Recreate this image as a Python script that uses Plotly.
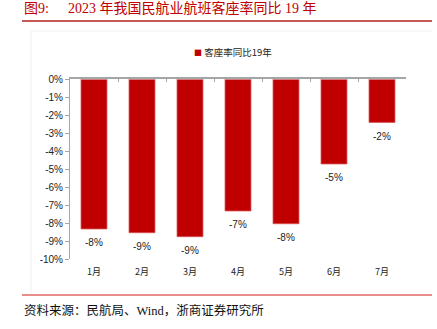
import plotly.graph_objects as go

months = ["1月", "2月", "3月", "4月", "5月", "6月", "7月"]
load_factor_vs_2019 = [-8.33, -8.54, -8.76, -7.33, -8.04, -4.72, -2.41]
series_name = "客座率同比19年"
y_ticks = list(range(0, -11, -1))
y_tick_labels = [f"{v}%" for v in y_ticks]

RED = "#C00000"
W, H = 437, 329
ML, MR, MT, MB = 70, 31, 79, 70
PW, PH = W - ML - MR, H - MT - MB


def px_x(p):
    return (p - ML) / PW


def px_y(p):
    return 1 - (p - MT) / PH


fig = go.Figure()
fig.add_trace(go.Bar(
    x=months, y=load_factor_vs_2019, name=series_name,
    marker=dict(color=RED, line=dict(color="#d85050", width=0.8)),
    showlegend=False, xaxis="x", yaxis="y",
))
# invisible trace to drive top axis (zero line with boundary ticks)
fig.add_trace(go.Bar(
    x=months, y=[0] * len(months), xaxis="x2", yaxis="y",
    showlegend=False, hoverinfo="skip", marker=dict(color="rgba(0,0,0,0)"),
))

annotations = []
for m, v in zip(months, load_factor_vs_2019):
    annotations.append(dict(
        x=m, y=v, xref="x", yref="y", text=f"{round(v):d}%",
        showarrow=False, yshift=-14, yanchor="middle",
        font=dict(family="Liberation Sans, Arial, sans-serif", size=10, color="#222"),
    ))

annotations += [
    # legend
    dict(x=px_x(192), y=px_y(52), xref="paper", yref="paper",
         text=f"<span style='color:{RED};font-size:8px'>■</span> {series_name}",
         showarrow=False, xanchor="left", yanchor="middle",
         font=dict(family="Noto Sans CJK SC, sans-serif", size=9.5, color="#222")),
    dict(x=px_x(22), y=px_y(8), xref="paper", yref="paper", text="图9:",
         showarrow=False, xanchor="left", yanchor="middle",
         font=dict(family="Liberation Serif, Noto Sans CJK SC, serif", size=14, color=RED)),
    dict(x=px_x(66), y=px_y(8), xref="paper", yref="paper",
         text="2023 年我国民航业航班客座率同比 19 年",
         showarrow=False, xanchor="left", yanchor="middle",
         font=dict(family="Liberation Serif, Noto Sans CJK SC, serif", size=14, color=RED)),
    dict(x=px_x(22), y=px_y(310), xref="paper", yref="paper",
         text="资料来源：民航局、Wind，浙商证券研究所",
         showarrow=False, xanchor="left", yanchor="middle",
         font=dict(family="Liberation Serif, Noto Sans CJK SC, serif", size=12.5, color="#111")),
]

shapes = [
    dict(type="line", xref="paper", yref="paper", x0=px_x(22), x1=px_x(432),
         y0=px_y(21), y1=px_y(21), line=dict(color="#B22222", width=1.5)),
    dict(type="line", xref="paper", yref="paper", x0=px_x(22), x1=px_x(432),
         y0=px_y(295), y1=px_y(295), line=dict(color="#E06666", width=1.5)),
    dict(type="line", xref="paper", yref="paper", x0=px_x(31), x1=px_x(31),
         y0=px_y(31), y1=px_y(293), line=dict(color="#f0f0f0", width=1)),
    dict(type="line", xref="paper", yref="paper", x0=px_x(31), x1=px_x(432),
         y0=px_y(31), y1=px_y(31), line=dict(color="#f0f0f0", width=1)),
]

fig.update_layout(
    width=W, height=H,
    margin=dict(l=ML, r=MR, t=MT, b=MB, pad=0),
    paper_bgcolor="white", plot_bgcolor="white",
    bargap=0.46, barmode="overlay",
    font=dict(family="Liberation Sans, Arial, Noto Sans CJK SC, sans-serif", size=10, color="#222"),
    showlegend=False,
    xaxis=dict(
        type="category", categoryorder="array", categoryarray=months,
        showline=False, ticks="", showgrid=False, zeroline=False,
        tickfont=dict(family="Noto Sans CJK SC, sans-serif", size=9, color="#222"),
        ticklabelstandoff=6,
    ),
    xaxis2=dict(
        type="category", categoryorder="array", categoryarray=months,
        overlaying="x", matches="x", side="top", showticklabels=False,
        showline=True, linecolor="#a6a6a6", linewidth=1.5,
        ticks="inside", tickson="boundaries", ticklen=3, tickcolor="#a6a6a6",
        showgrid=False, zeroline=False,
    ),
    yaxis=dict(
        range=[-10, 0], tickvals=y_ticks, ticktext=y_tick_labels,
        showline=True, linecolor="#a6a6a6", linewidth=1,
        ticks="outside", ticklen=4, tickcolor="#a6a6a6",
        showgrid=False, zeroline=False,
        tickfont=dict(family="Liberation Sans, Arial, sans-serif", size=10, color="#222"),
    ),
    annotations=annotations, shapes=shapes,
)

fig.write_html("out.html")
